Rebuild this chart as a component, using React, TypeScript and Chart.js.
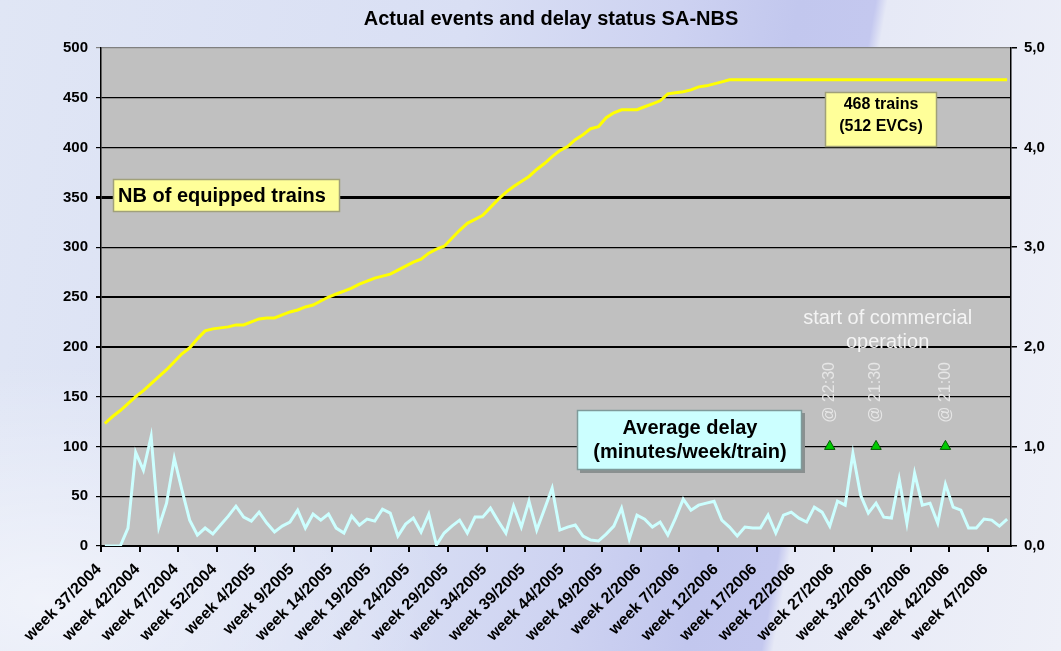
import React, { useEffect, useRef } from "react";
import { Chart, registerables } from "chart.js";

Chart.register(...registerables);

// ---------- DATA ----------
const weeks: string[] = [
  "week 37/2004", "week 38/2004", "week 39/2004", "week 40/2004", "week 41/2004", "week 42/2004",
  "week 43/2004", "week 44/2004", "week 45/2004", "week 46/2004", "week 47/2004", "week 48/2004",
  "week 49/2004", "week 50/2004", "week 51/2004", "week 52/2004", "week 53/2004",
  "week 1/2005", "week 2/2005", "week 3/2005", "week 4/2005", "week 5/2005", "week 6/2005",
  "week 7/2005", "week 8/2005", "week 9/2005", "week 10/2005", "week 11/2005", "week 12/2005",
  "week 13/2005", "week 14/2005", "week 15/2005", "week 16/2005", "week 17/2005", "week 18/2005",
  "week 19/2005", "week 20/2005", "week 21/2005", "week 22/2005", "week 23/2005", "week 24/2005",
  "week 25/2005", "week 26/2005", "week 27/2005", "week 28/2005", "week 29/2005", "week 30/2005",
  "week 31/2005", "week 32/2005", "week 33/2005", "week 34/2005", "week 35/2005", "week 36/2005",
  "week 37/2005", "week 38/2005", "week 39/2005", "week 40/2005", "week 41/2005", "week 42/2005",
  "week 43/2005", "week 44/2005", "week 45/2005", "week 46/2005", "week 47/2005", "week 48/2005",
  "week 49/2005", "week 50/2005", "week 51/2005", "week 52/2005",
  "week 1/2006", "week 2/2006", "week 3/2006", "week 4/2006", "week 5/2006", "week 6/2006",
  "week 7/2006", "week 8/2006", "week 9/2006", "week 10/2006", "week 11/2006", "week 12/2006",
  "week 13/2006", "week 14/2006", "week 15/2006", "week 16/2006", "week 17/2006", "week 18/2006",
  "week 19/2006", "week 20/2006", "week 21/2006", "week 22/2006", "week 23/2006", "week 24/2006",
  "week 25/2006", "week 26/2006", "week 27/2006", "week 28/2006", "week 29/2006", "week 30/2006",
  "week 31/2006", "week 32/2006", "week 33/2006", "week 34/2006", "week 35/2006", "week 36/2006",
  "week 37/2006", "week 38/2006", "week 39/2006", "week 40/2006", "week 41/2006", "week 42/2006",
  "week 43/2006", "week 44/2006", "week 45/2006", "week 46/2006", "week 47/2006", "week 48/2006",
  "week 49/2006",
];

// NB of equipped trains (left axis)
const equippedTrains: number[] = [
  123, 130, 136, 143, 150, 156, 163, 170, 177, 185,
  193, 199, 208, 216, 218, 219, 220, 222, 222, 225,
  228, 229, 229, 232, 235, 237, 240, 242, 246, 250,
  253, 256, 259, 263, 266, 269, 271, 273, 277, 281,
  285, 288, 294, 298, 301, 309, 317, 324, 328, 332,
  340, 348, 355, 361, 366, 371, 378, 384, 391, 397,
  401, 408, 413, 419, 421, 430, 435, 438, 438, 438,
  441, 444, 447, 454, 455, 456, 458, 461, 462, 464,
  466, 468, 468, 468, 468, 468, 468, 468, 468, 468,
  468, 468, 468, 468, 468, 468, 468, 468, 468, 468,
  468, 468, 468, 468, 468, 468, 468, 468, 468, 468,
  468, 468, 468, 468, 468, 468, 468, 468,
];

// Average delay, minutes/week/train (right axis)
const averageDelay: number[] = [
  0.0, 0.0, 0.0, 0.18, 0.94, 0.76, 1.1, 0.19, 0.43, 0.88,
  0.56, 0.26, 0.11, 0.18, 0.12, 0.21, 0.3, 0.4, 0.29, 0.25,
  0.34, 0.23, 0.14, 0.2, 0.24, 0.36, 0.18, 0.32, 0.26, 0.32,
  0.18, 0.13, 0.3, 0.21, 0.27, 0.25, 0.37, 0.33, 0.1, 0.22,
  0.28, 0.14, 0.32, 0.01, 0.13, 0.2, 0.26, 0.13, 0.29, 0.29,
  0.38, 0.25, 0.13, 0.4, 0.19, 0.45, 0.16, 0.37, 0.58, 0.16,
  0.19, 0.21, 0.1, 0.06, 0.05, 0.12, 0.2, 0.38, 0.07, 0.31,
  0.27, 0.19, 0.24, 0.11, 0.28, 0.47, 0.36, 0.41, 0.43, 0.45,
  0.26, 0.19, 0.1, 0.19, 0.18, 0.18, 0.31, 0.13, 0.31, 0.34,
  0.28, 0.24, 0.39, 0.34, 0.2, 0.45, 0.41, 0.93, 0.51, 0.33,
  0.43, 0.29, 0.28, 0.67, 0.23, 0.73, 0.41, 0.43, 0.23, 0.62,
  0.39, 0.36, 0.18, 0.18, 0.27, 0.26, 0.2, 0.27,
];

// start of commercial operation markers
const startWeekIndex: number[] = [94, 100, 109];
const startTimes: string[] = ["@ 22:30", "@ 21:30", "@ 21:00"];
const startMarkerLevel = 1.0;

const titleText = "Actual events and delay status SA-NBS";
const equippedLabel = "NB of equipped trains";
const fleetLabel: string[] = ["468 trains", "(512 EVCs)"];
const delayLabel: string[] = ["Average delay", "(minutes/week/train)"];
const commercialLabel: string[] = ["start of commercial", "operation"];

const FONT = '"Liberation Sans", Arial, sans-serif';

const markerData = weeks.map((_, i) =>
  startWeekIndex.includes(i) ? startMarkerLevel : null
);

const plotBgPlugin = {
  id: "plotBg",
  beforeDraw(chart: any) {
    const { ctx, chartArea: a } = chart;
    ctx.save();
    ctx.fillStyle = "#C0C0C0";
    ctx.fillRect(a.left, a.top, a.right - a.left, a.bottom - a.top);
    ctx.fillStyle = "#000";
    ctx.font = `bold 20px ${FONT}`;
    ctx.textAlign = "center";
    ctx.textBaseline = "middle";
    ctx.fillText(titleText, (a.left + a.right) / 2 - 5, 19);
    ctx.restore();
  },
};

function drawBox(ctx: CanvasRenderingContext2D, x: number, y: number, w: number, h: number, fill: string, stroke: string, shadow?: string) {
  if (shadow) {
    ctx.fillStyle = shadow;
    ctx.fillRect(x + 3, y + 3, w, h);
  }
  ctx.fillStyle = fill;
  ctx.fillRect(x, y, w, h);
  ctx.strokeStyle = stroke;
  ctx.lineWidth = 1.5;
  ctx.strokeRect(x + 0.5, y + 0.5, w - 1, h - 1);
}

const annotationPlugin = {
  id: "annotations",
  afterDatasetsDraw(chart: any) {
    const { ctx, chartArea: a } = chart;
    const xs = chart.scales.x;
    const y2 = chart.scales.y2;
    ctx.save();
    ctx.textBaseline = "middle";

    // NB of equipped trains box
    drawBox(ctx, a.left + 12, 179, 227, 33, "#FFFF99", "#A0A07A");
    ctx.fillStyle = "#000";
    ctx.font = `bold 20px ${FONT}`;
    ctx.textAlign = "left";
    ctx.fillText(equippedLabel, a.left + 17, 196);

    // 468 trains box
    drawBox(ctx, 825, 92, 112, 55, "#FFFF99", "#A0A07A");
    ctx.fillStyle = "#000";
    ctx.font = `bold 16px ${FONT}`;
    ctx.textAlign = "center";
    ctx.fillText(fleetLabel[0], 881, 105);
    ctx.fillText(fleetLabel[1], 881, 127);

    // Average delay box
    drawBox(ctx, 577, 410, 225, 60, "#CCFFFF", "#7F9A9A", "#8A9090");
    ctx.fillStyle = "#000";
    ctx.font = `bold 20px ${FONT}`;
    ctx.textAlign = "center";
    ctx.fillText(delayLabel[0], 690, 428);
    ctx.fillText(delayLabel[1], 690, 452);

    // start of commercial operation
    const cx = (xs.getPixelForValue(startWeekIndex[0]) + xs.getPixelForValue(startWeekIndex[2])) / 2;
    ctx.fillStyle = "#F4F4F4";
    ctx.font = `20px ${FONT}`;
    ctx.fillText(commercialLabel[0], cx, 318);
    ctx.fillText(commercialLabel[1], cx, 342);

    // rotated times
    const my = y2.getPixelForValue(startMarkerLevel);
    ctx.font = `16px ${FONT}`;
    ctx.fillStyle = "#E6E6E6";
    startWeekIndex.forEach((idx, k) => {
      const px = xs.getPixelForValue(idx);
      ctx.save();
      ctx.translate(px, my - 54);
      ctx.rotate(-Math.PI / 2);
      ctx.textAlign = "center";
      ctx.textBaseline = "middle";
      ctx.fillText(startTimes[k], 0, 0);
      ctx.restore();
    });
    ctx.restore();
  },
};

export default function App() {
  const ref = useRef<HTMLCanvasElement>(null);

  useEffect(() => {
    if (!ref.current) return;
    const tickFont = { family: FONT, size: 15, weight: "bold" as const };
    const chart = new Chart(ref.current, {
      type: "line",
      data: {
        labels: weeks,
        datasets: [
          {
            label: "Start of commercial operation",
            data: markerData,
            yAxisID: "y2",
            showLine: false,
            pointStyle: "triangle",
            pointRadius: 6,
            pointBackgroundColor: "#00CC00",
            pointBorderColor: "#005A00",
            pointBorderWidth: 1,
            order: 0,
          },
          {
            label: "NB of equipped trains",
            data: equippedTrains,
            yAxisID: "y",
            borderColor: "#FFFF00",
            borderWidth: 3,
            pointRadius: 0,
            tension: 0,
            order: 1,
          },
          {
            label: "Average delay",
            data: averageDelay,
            yAxisID: "y2",
            borderColor: "#CCFFFF",
            borderWidth: 3,
            pointRadius: 0,
            tension: 0,
            order: 2,
          },
        ],
      },
      options: {
        responsive: false,
        animation: false,
        devicePixelRatio: 1,
        layout: { padding: { top: 48, left: 0, right: 0, bottom: 0 } },
        plugins: {
          legend: { display: false },
          tooltip: { enabled: false },
          title: { display: false },
        },
        scales: {
          x: {
            type: "category",
            offset: true,
            afterFit: (s: any) => {
              s.height = 105;
            },
            grid: {
              offset: true,
              drawOnChartArea: false,
              drawTicks: true,
              tickLength: 6,
              lineWidth: 2,
              color: (c: any) => (c.index !== undefined && c.index % 5 === 0 ? "#000" : "rgba(0,0,0,0)"),
            },
            border: { color: "#000", width: 2 },
            ticks: {
              autoSkip: false,
              minRotation: 45,
              maxRotation: 45,
              padding: 8,
              labelOffset: -6,
              color: "#000",
              font: { family: FONT, size: 16, weight: "bold" },
              callback: (_v: any, i: number) => (i % 5 === 0 ? weeks[i] : ""),
            },
          },
          y: {
            position: "left",
            min: 0,
            max: 500,
            afterFit: (s: any) => {
              s.width = 101;
            },
            ticks: { stepSize: 50, color: "#000", font: tickFont, padding: 8 },
            grid: {
              tickLength: 5,
              color: (c: any) => (c.tick && c.tick.value === 500 ? "#808080" : "#000"),
              lineWidth: (c: any) => {
                const v = c.tick ? c.tick.value : 0;
                if (v === 350) return 3;
                if (v === 250 || v === 200) return 2;
                return 1.2;
              },
            },
            border: { color: "#000", width: 1.5 },
          },
          y2: {
            position: "right",
            min: 0,
            max: 5,
            afterFit: (s: any) => {
              s.width = 50;
            },
            ticks: {
              stepSize: 1,
              color: "#000",
              font: tickFont,
              padding: 7,
              callback: (v: any) => Number(v).toFixed(1).replace(".", ","),
            },
            grid: { drawOnChartArea: false, tickLength: 6, color: "#000", lineWidth: 1.5 },
            border: { color: "#000", width: 1.5 },
          },
        },
      },
      plugins: [plotBgPlugin, annotationPlugin],
    } as any);
    return () => chart.destroy();
  }, []);

  return (
    <div
      style={{
        position: "fixed",
        left: 0,
        top: 0,
        width: 1061,
        height: 651,
        overflow: "hidden",
        background:
          "radial-gradient(ellipse at 4% 92%, rgba(255,255,255,0.55), rgba(255,255,255,0) 28%), linear-gradient(100deg, #e0e6f5 0%, #d9dff4 40%, #cdd2f1 58%, #c2c7ee 68%, #c4c8ef 74.5%, #e6e9f6 75.5%, #eef0f8 100%)",
      }}
    >
      <canvas ref={ref} width={1061} height={651} style={{ display: "block", width: 1061, height: 651 }} />
    </div>
  );
}
